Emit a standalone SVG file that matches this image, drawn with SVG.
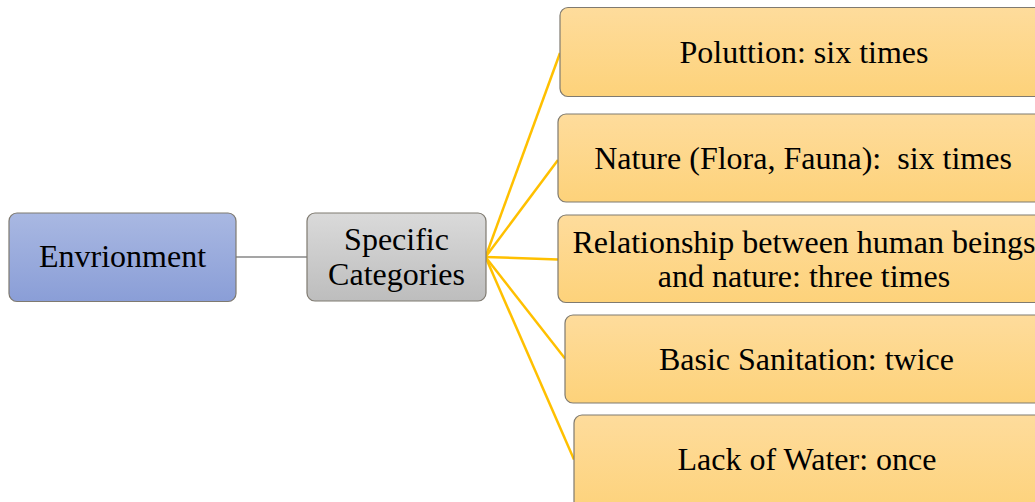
<svg xmlns="http://www.w3.org/2000/svg" width="1035" height="502" viewBox="0 0 1035 502">
<defs>
<linearGradient id="gBlue" x1="0" y1="0" x2="0" y2="1"><stop offset="0" stop-color="#A9B8E2"/><stop offset="1" stop-color="#8A9ED7"/></linearGradient>
<linearGradient id="gGrey" x1="0" y1="0" x2="0" y2="1"><stop offset="0" stop-color="#DADADA"/><stop offset="1" stop-color="#BDBDBD"/></linearGradient>
<linearGradient id="gOrange" x1="0" y1="0" x2="0" y2="1"><stop offset="0" stop-color="#FEDC9C"/><stop offset="1" stop-color="#FDD27A"/></linearGradient>
</defs>
<style>
.box{stroke:#7F7A70;stroke-width:1.2}
.blue{fill:url(#gBlue)}
.grey{fill:url(#gGrey)}
.orange{fill:url(#gOrange)}
.t{font-family:"Liberation Serif","Times New Roman",serif;font-size:32px;fill:#000;text-anchor:middle}
.gold{stroke:#FFC000;stroke-width:2.5;fill:none}
.gline{stroke:#A5A5A5;stroke-width:2;fill:none}
</style>
<g id="connectors">
<line class="gline" x1="236" y1="257" x2="307" y2="257"/>
<line class="gold" x1="485.5" y1="257" x2="560" y2="53"/>
<line class="gold" x1="485.5" y1="257" x2="558" y2="160"/>
<line class="gold" x1="485.5" y1="257" x2="558" y2="259.5"/>
<line class="gold" x1="485.5" y1="257" x2="565" y2="358.5"/>
<line class="gold" x1="485.5" y1="257" x2="574" y2="459.5"/>
</g>
<g id="node-environment">
<rect class="box blue" x="9" y="213" width="227" height="88.5" rx="8"/>
<text class="t" x="122.5" y="266.5">Envrionment</text>
</g>
<g id="node-specific">
<rect class="box grey" x="307" y="213" width="179" height="88" rx="8"/>
<text class="t" x="396.5" y="250">Specific</text>
<text class="t" x="396.5" y="284.5">Categories</text>
</g>
<g id="node-pollution">
<rect class="box orange" x="560" y="7.5" width="490" height="89" rx="8"/>
<text class="t" x="804" y="62.5">Poluttion: six times</text>
</g>
<g id="node-nature">
<rect class="box orange" x="558" y="114" width="492" height="88" rx="8"/>
<text class="t" x="803" y="168.5" xml:space="preserve">Nature (Flora, Fauna):  six times</text>
</g>
<g id="node-relationship">
<rect class="box orange" x="558" y="215" width="492" height="87.5" rx="8"/>
<text class="t" x="804" y="253">Relationship between human beings</text>
<text class="t" x="804" y="287">and nature: three times</text>
</g>
<g id="node-sanitation">
<rect class="box orange" x="565" y="315" width="485" height="88" rx="8"/>
<text class="t" x="806.5" y="369.5">Basic Sanitation: twice</text>
</g>
<g id="node-water">
<rect class="box orange" x="574" y="415" width="476" height="100" rx="8"/>
<text class="t" x="807" y="470">Lack of Water: once</text>
</g>
</svg>
